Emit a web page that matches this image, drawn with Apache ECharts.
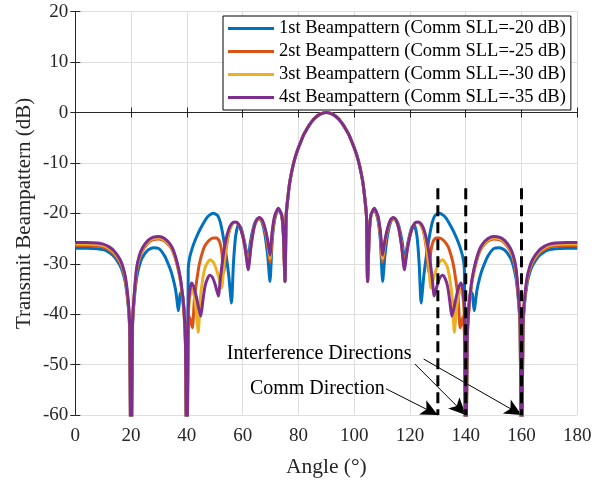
<!DOCTYPE html>
<html><head><meta charset="utf-8">
<script src="https://cdn.jsdelivr.net/npm/echarts@6/dist/echarts.min.js"></script>
<style>html,body{margin:0;padding:0;background:#fff}#c{width:608px;height:483px}</style>
</head><body><div id="c"></div>
<script>
const FONT = "'Liberation Serif','Times New Roman',serif";
const seriesNames = [
  '1st Beampattern (Comm SLL=-20 dB)',
  '2st Beampattern (Comm SLL=-25 dB)',
  '3st Beampattern (Comm SLL=-30 dB)',
  '4st Beampattern (Comm SLL=-35 dB)'
];
const colors = ['#0072BD', '#D95319', '#EDB120', '#7E2F8E'];

// main lobe shared by all four patterns [angle, dB]
const mainLobe = [[75.6,-20.5],[76,-18],[76.5,-15.5],[77,-13.5],[78,-10.7],[79,-8.6],[80,-7.0],[81,-5.6],[82,-4.3],[83,-3.3],[84,-2.4],[85,-1.65],[86,-1.07],[87,-0.6],[88,-0.27],[89,-0.07],[90,0],[91,-0.07],[92,-0.27],[93,-0.6],[94,-1.07],[95,-1.65],[96,-2.4],[97,-3.3],[98,-4.3],[99,-5.6],[100,-7.0],[101,-8.6],[102,-10.7],[103,-13.5],[103.5,-15.5],[104,-18],[104.4,-20.5]];

const beam1Left = [[0,-26.9],[4,-26.9],[8,-27.0],[10,-27.2],[12,-27.7],[14,-28.6],[16,-30.3],[17,-31.7],[18,-33.9],[19,-38.5],[19.5,-43.5],[20,-75],[20.5,-43],[21,-38],[22,-32.8],[23,-30.3],[24,-28.8],[26,-27.3],[28,-26.8],[30,-27.0],[32,-28.4],[34,-31],[35,-32.8],[36,-35.3],[37,-39.3],[37.6,-36],[38.3,-35.5],[39,-39],[39.5,-45],[40,-75],[40.5,-31],[41,-28.8],[42,-26.8],[43,-25.3],[44,-24],[45,-22.9],[46,-21.9],[47,-21.0],[48,-20.4],[49.5,-20.0],[51,-20.4],[52,-21.8],[53,-24.5],[54,-28],[55,-32.2],[56,-37.8],[56.7,-30],[57.5,-24.5],[58.5,-22.2],[59.5,-23],[60.5,-25.2],[61.5,-28],[62,-29.5],[62.7,-26],[64,-22.5],[65,-21.3],[66,-21.0],[67,-21.8],[68,-24.2],[69,-28.5],[69.8,-33.5],[70.6,-25.5],[71.5,-21.2],[72.8,-19.2],[74,-20.4],[74.6,-24],[75.2,-33.5]];
const beam1Right = [[104.8,-33.5],[105.4,-24],[106,-20.4],[107.2,-19.2],[108.5,-21.2],[109.4,-25.5],[110.2,-33.5],[111,-28.5],[112,-24.2],[113,-21.8],[114,-21.0],[115,-21.3],[116,-22.5],[117.3,-26],[118,-29.5],[118.5,-28],[119.5,-25.2],[120.5,-23],[121.5,-22.2],[122.5,-24.5],[123.3,-30],[124,-37.8],[125,-32.2],[126,-28],[127,-24.5],[128,-21.8],[129,-20.4],[130.5,-20.0],[132,-20.4],[133,-21.0],[134,-21.9],[135,-22.9],[136,-24],[137,-25.3],[138,-26.8],[139,-28.8],[139.5,-31],[140,-75],[140.5,-45],[141,-39],[141.7,-35.5],[142.4,-36],[143,-39.3],[144,-35.3],[145,-32.8],[146,-31],[148,-28.4],[150,-27.0],[152,-26.8],[154,-27.3],[156,-28.8],[157,-30.3],[158,-32.8],[159,-38],[159.5,-43],[160,-75],[160.5,-43.5],[161,-38.5],[162,-33.9],[163,-31.7],[164,-30.3],[166,-28.6],[168,-27.7],[170,-27.2],[172,-27.0],[176,-26.9],[180,-26.9]];

const beam2Left = [[0,-26.4],[4,-26.4],[8,-26.5],[10,-26.7],[12,-27.2],[14,-28.1],[16,-29.7],[17,-31.1],[18,-33.3],[19,-38],[19.5,-43],[20,-75],[20.5,-42.5],[21,-37.5],[22,-31.5],[23,-29],[24,-27.5],[26,-25.9],[28,-25.2],[30,-25.1],[32,-25.5],[34,-26.6],[35,-27.6],[36,-29.2],[37,-31.4],[38,-34.5],[39,-40],[39.5,-46],[40,-75],[40.5,-44],[41,-40.5],[42,-42.7],[42.7,-37],[43.5,-33.5],[44.5,-30],[46,-27],[47,-26],[48.3,-25.2],[49.5,-24.9],[50.7,-24.9],[51.7,-25.6],[52.5,-27.5],[53.2,-31.8],[54,-27.5],[55,-24],[56,-22.4],[57,-21.8],[58,-21.9],[59,-22.7],[60,-24.3],[61,-27],[62,-30.2],[63,-26.3],[64,-23],[65,-21.4],[66,-21.0],[67,-21.5],[68,-23.3],[69,-26.3],[69.8,-29.8],[70.6,-24.5],[71.5,-20.9],[72.8,-19.1],[74,-20.4],[74.6,-24],[75.2,-33.5]];
const beam2Right = [[104.8,-33.5],[105.4,-24],[106,-20.4],[107.2,-19.1],[108.5,-20.9],[109.4,-24.5],[110.2,-29.8],[111,-26.3],[112,-23.3],[113,-21.5],[114,-21.0],[115,-21.4],[116,-23],[117,-26.3],[118,-30.2],[119,-27],[120,-24.3],[121,-22.7],[122,-21.9],[123,-21.8],[124,-22.4],[125,-24],[126,-27.5],[126.8,-31.8],[127.5,-27.5],[128.3,-25.6],[129.3,-24.9],[130.5,-24.9],[131.7,-25.2],[133,-26],[134,-27],[135.5,-30],[136.5,-33.5],[137.3,-37],[138,-42.7],[139,-40.5],[139.5,-44],[140,-75],[140.5,-46],[141,-40],[142,-34.5],[143,-31.4],[144,-29.2],[145,-27.6],[146,-26.6],[148,-25.5],[150,-25.1],[152,-25.2],[154,-25.9],[156,-27.5],[157,-29],[158,-31.5],[159,-37.5],[159.5,-42.5],[160,-75],[160.5,-43],[161,-38],[162,-33.3],[163,-31.1],[164,-29.7],[166,-28.1],[168,-27.2],[170,-26.7],[172,-26.5],[176,-26.4],[180,-26.4]];

const beam3Left = [[0,-26.1],[4,-26.1],[8,-26.2],[10,-26.4],[12,-26.9],[14,-27.8],[16,-29.4],[17,-30.8],[18,-33],[19,-37.7],[19.5,-42.7],[20,-75],[20.5,-42.2],[21,-37.2],[22,-31.2],[23,-28.7],[24,-27.2],[26,-25.7],[28,-25.0],[30,-24.9],[32,-25.3],[34,-26.4],[35,-27.4],[36,-29],[37,-31.2],[38,-34.3],[39,-39.8],[39.5,-46],[40,-75],[40.5,-41],[41,-37],[41.8,-35],[42.6,-36.2],[43.4,-39.5],[44.1,-43.6],[44.8,-37],[45.7,-33],[46.7,-30.5],[48.3,-29.2],[49.5,-29.7],[50.5,-31],[51.5,-32.8],[52.5,-34.8],[53.3,-30],[54,-26.8],[55,-23.8],[56,-22.3],[57,-21.8],[58,-21.9],[59,-22.7],[60,-24.3],[61,-27.2],[62,-30.7],[63,-26.4],[64,-23],[65,-21.4],[66,-20.9],[67,-21.4],[68,-23.1],[69,-25.8],[69.8,-29],[70.6,-24],[71.5,-20.7],[72.8,-19.1],[74,-20.4],[74.6,-24],[75.2,-33.5]];
const beam3Right = [[104.8,-33.5],[105.4,-24],[106,-20.4],[107.2,-19.1],[108.5,-20.7],[109.4,-24],[110.2,-29],[111,-25.8],[112,-23.1],[113,-21.4],[114,-20.9],[115,-21.4],[116,-23],[117,-26.4],[118,-30.7],[119,-27.2],[120,-24.3],[121,-22.7],[122,-21.9],[123,-21.8],[124,-22.3],[125,-23.8],[126,-26.8],[126.7,-30],[127.5,-34.8],[128.5,-32.8],[129.5,-31],[130.5,-29.7],[131.7,-29.2],[133.3,-30.5],[134.3,-33],[135.2,-37],[135.9,-43.6],[136.6,-39.5],[137.4,-36.2],[138.2,-35],[139,-37],[139.5,-41],[140,-75],[140.5,-46],[141,-39.8],[142,-34.3],[143,-31.2],[144,-29],[145,-27.4],[146,-26.4],[148,-25.3],[150,-24.9],[152,-25.0],[154,-25.7],[156,-27.2],[157,-28.7],[158,-31.2],[159,-37.2],[159.5,-42.2],[160,-75],[160.5,-42.7],[161,-37.7],[162,-33],[163,-30.8],[164,-29.4],[166,-27.8],[168,-26.9],[170,-26.4],[172,-26.2],[176,-26.1],[180,-26.1]];

const beam4Left = [[0,-25.8],[4,-25.8],[8,-25.9],[10,-26.1],[12,-26.6],[14,-27.5],[16,-29.1],[17,-30.5],[18,-32.7],[19,-37.4],[19.5,-42.4],[20,-75],[20.5,-42],[21,-37],[22,-30.8],[23,-28.3],[24,-26.9],[26,-25.4],[28,-24.7],[30,-24.6],[32,-25.0],[34,-26.1],[35,-27.1],[36,-28.7],[37,-30.9],[38,-34],[39,-39.5],[39.5,-46],[40,-75],[40.5,-39],[41,-35.5],[41.7,-33.8],[42.5,-34.6],[43.5,-36.8],[44.3,-39],[45,-40.4],[45.7,-37.5],[46.5,-34.5],[47.5,-32.8],[48.3,-32.3],[49.2,-32.7],[50.2,-34.2],[51.3,-36.4],[52,-33],[53,-28.5],[54,-25.3],[55,-23.2],[56,-22.1],[57,-21.7],[58,-21.8],[59,-22.7],[60,-24.4],[61,-27.3],[62,-31.2],[63,-26.5],[64,-23],[65,-21.3],[66,-20.8],[67,-21.3],[68,-22.9],[69,-25.4],[69.8,-28.3],[70.6,-23.6],[71.5,-20.5],[72.8,-19.0],[74,-20.3],[74.6,-24],[75.2,-33.5]];
const beam4Right = [[104.8,-33.5],[105.4,-24],[106,-20.3],[107.2,-19.0],[108.5,-20.5],[109.4,-23.6],[110.2,-28.3],[111,-25.4],[112,-22.9],[113,-21.3],[114,-20.8],[115,-21.3],[116,-23],[117,-26.5],[118,-31.2],[119,-27.3],[120,-24.4],[121,-22.7],[122,-21.8],[123,-21.7],[124,-22.1],[125,-23.2],[126,-25.3],[127,-28.5],[128,-33],[128.7,-36.4],[129.8,-34.2],[130.8,-32.7],[131.7,-32.3],[132.5,-32.8],[133.5,-34.5],[134.3,-37.5],[135,-40.4],[135.7,-39],[136.5,-36.8],[137.5,-34.6],[138.3,-33.8],[139,-35.5],[139.5,-39],[140,-75],[140.5,-46],[141,-39.5],[142,-34],[143,-30.9],[144,-28.7],[145,-27.1],[146,-26.1],[148,-25.0],[150,-24.6],[152,-24.7],[154,-25.4],[156,-26.9],[157,-28.3],[158,-30.8],[159,-37],[159.5,-42],[160,-75],[160.5,-42.4],[161,-37.4],[162,-32.7],[163,-30.5],[164,-29.1],[166,-27.5],[168,-26.6],[170,-26.1],[172,-25.9],[176,-25.8],[180,-25.8]];

const beams = [
  beam1Left.concat(mainLobe, beam1Right),
  beam2Left.concat(mainLobe, beam2Right),
  beam3Left.concat(mainLobe, beam3Right),
  beam4Left.concat(mainLobe, beam4Right)
];

// dashed direction markers
const directions = [130, 140, 160];
const dashTop = -15;
const dashBottom = -60;

// annotations: text, anchor (left/middle of text) and arrow start -> target
const annoTexts = ['Interference Directions', 'Comm Direction'];
const annoTextPos = [[54.3, -47.8], [62.6, -54.8]];
const arrows = [
  [[121.8, -49.9], [140, -60]],
  [[124.9, -48.9], [160, -60]],
  [[111.4, -54.8], [130, -60]]
];

const xMin = 0, xMax = 180, xStep = 20;
const yMin = -60, yMax = 20, yStep = 10;

const chart = echarts.init(document.getElementById('c'), null, {renderer: 'canvas'});

const axisColor = '#262626';
const gridColor = '#dedede';

const series = beams.map((d, i) => ({
  name: seriesNames[i],
  type: 'line',
  data: d,
  showSymbol: false,
  symbol: 'none',
  smooth: 0.2,
  lineStyle: {color: colors[i], width: 3},
  itemStyle: {color: colors[i]},
  clip: true,
  z: 2 + i,
  animation: false
}));

directions.forEach((a, k) => {
  const s = {
    type: 'line',
    data: [[a, dashTop], [a, dashBottom]],
    showSymbol: false,
    symbol: 'none',
    lineStyle: {color: '#000', width: 3, type: [11, 6]},
    z: 10,
    animation: false,
    silent: true
  };
  if (k === 0) {
    s.markLine = {
      silent: true,
      animation: false,
      symbol: ['none', 'arrow'],
      symbolSize: [12, 17],
      label: {show: false},
      lineStyle: {color: '#000', width: 1, type: 'solid'},
      itemStyle: {color: '#000'},
      data: arrows.map(p => [{coord: p[0]}, {coord: p[1]}])
    };
  }
  series.push(s);
});

chart.setOption({
  animation: false,
  backgroundColor: '#fff',
  grid: {left: 75.3, right: 30.7, top: 11.7, bottom: 64.7, containLabel: false},
  legend: {
    data: seriesNames,
    left: 223, top: 16,
    orient: 'vertical',
    icon: 'rect',
    itemWidth: 46, itemHeight: 3,
    itemGap: 4,
    itemTextGap: 4,
    padding: [3, 5, 3, 5],
    borderColor: '#000', borderWidth: 1,
    backgroundColor: '#fff',
    borderRadius: 0,
    textStyle: {fontFamily: FONT, fontSize: 18.5, color: '#000', lineHeight: 18},
    selectedMode: false
  },
  xAxis: [{
    type: 'value', min: xMin, max: xMax, interval: xStep,
    name: 'Angle (°)', nameLocation: 'middle', nameGap: 41, nameMoveOverlap: false,
    nameTextStyle: {fontFamily: FONT, fontSize: 21.5, color: axisColor},
    axisLine: {show: true, lineStyle: {color: axisColor, width: 1}},
    axisTick: {show: true, inside: true, length: 5, lineStyle: {color: axisColor}},
    axisLabel: {fontFamily: FONT, fontSize: 19, color: axisColor, margin: 12},
    splitLine: {show: true, lineStyle: {color: gridColor, width: 1}}
  }, {
    type: 'value', min: xMin, max: xMax, interval: xStep, position: 'top',
    axisLine: {show: true, lineStyle: {color: axisColor, width: 1}},
    axisTick: {show: true, inside: true, length: 5, lineStyle: {color: axisColor}},
    axisLabel: {show: false}, splitLine: {show: false}
  }],
  yAxis: [{
    type: 'value', min: yMin, max: yMax, interval: yStep,
    name: 'Transmit Beampattern (dB)', nameLocation: 'middle', nameGap: 40, nameMoveOverlap: false,
    nameTextStyle: {fontFamily: FONT, fontSize: 21, color: axisColor},
    axisLine: {show: true, lineStyle: {color: axisColor, width: 1}},
    axisTick: {show: true, inside: true, length: 5, lineStyle: {color: axisColor}},
    axisLabel: {fontFamily: FONT, fontSize: 19, color: axisColor, margin: 7},
    splitLine: {show: true, lineStyle: {color: gridColor, width: 1}}
  }, {
    type: 'value', min: yMin, max: yMax, interval: yStep, position: 'right',
    axisLine: {show: true, lineStyle: {color: axisColor, width: 1}},
    axisTick: {show: true, inside: true, length: 5, lineStyle: {color: axisColor}},
    axisLabel: {show: false}, splitLine: {show: false}
  }],
  series: series
});

const graphics = annoTexts.map((t, i) => {
  const p = chart.convertToPixel({xAxisIndex: 0, yAxisIndex: 0}, annoTextPos[i]);
  return {
    type: 'text', x: p[0], y: p[1], z: 100,
    style: {text: t, fontFamily: FONT, fontSize: 20, fill: '#000', verticalAlign: 'middle', align: 'left'}
  };
});
chart.setOption({graphic: graphics});
</script></body></html>
